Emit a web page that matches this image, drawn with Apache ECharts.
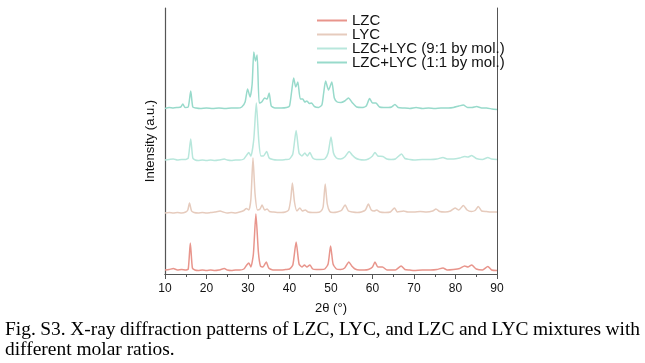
<!DOCTYPE html>
<html><head><meta charset="utf-8">
<script src="https://cdn.jsdelivr.net/npm/echarts@6/dist/echarts.min.js"></script>
<style>html,body{margin:0;padding:0;background:#fff}#c{width:645px;height:363px}</style>
</head><body><div id="c"></div>
<script>
// Data: [2θ, intensity (a.u., stacked offsets as plotted)]
const seriesNames = ['LZC', 'LYC', 'LZC+LYC (9:1 by mol.)', 'LZC+LYC (1:1 by mol.)'];
const xTicks = [10, 20, 30, 40, 50, 60, 70, 80, 90];
const lzc = [[10,4],[11,4.5],[12,5.5],[13,4],[14,4.5],[15,4],[15.6,5],[16.1,31],[16.6,6],[17.2,4],[18,3.5],[19,4],[20,3.5],[21,4],[22,3.5],[23,4],[24.3,5.5],[25,4],[26,3.5],[27,4],[28,4],[29,5],[29.7,9],[30.2,11],[30.7,7],[31.3,20],[31.9,60],[32.5,22],[33,8],[33.6,7],[34.4,12],[35,6],[36,4],[37,4],[38,4],[39,4.5],[40,5],[40.8,9],[41.6,32],[42.3,10],[43,7],[43.6,9],[44.2,7],[44.9,9],[45.6,5],[46.5,4.5],[47.5,4.5],[48.5,5],[49.3,10],[49.9,28],[50.5,10],[51.3,5],[52.3,4.5],[53.3,6],[54.3,12],[55,8],[55.8,5],[56.8,4],[58,4],[59,4.5],[60,7],[60.6,12],[61.3,7],[62.4,7],[63.5,4],[64.5,4],[65.5,4],[66.9,8],[67.8,4.5],[69,4],[70,3.5],[72,4],[74,4],[75.5,4.5],[77,6],[78,4],[79.5,4.5],[81,5.5],[82.2,8],[83,7],[83.9,9],[85,5],[86.5,4],[87.8,7.5],[88.7,4],[90,3.5]];
const lyc = [[10,61],[11,61.5],[12,61],[13,61.5],[14,61],[15,62],[15.5,64],[15.9,71],[16.4,63],[17,61.5],[18,61],[19,61.5],[20,61],[21,61.5],[22,62],[23.3,63],[24,62],[25,61],[26,61.5],[27,61],[28,62],[29,63.5],[29.6,65.5],[30.2,64],[30.7,75],[31.2,116],[31.7,80],[32.3,64],[32.9,65],[33.4,69],[34,64],[34.6,65],[35.2,62.5],[36,62],[37,61.5],[38,61.5],[39,62],[39.8,64],[40.3,75],[40.7,91],[41.2,72],[41.8,63],[42.5,66],[43.1,63],[43.8,64],[44.5,62],[45.5,61.5],[46.5,61.5],[47.5,62.5],[48.1,67],[48.6,90],[49.1,70],[49.7,62.5],[50.5,61.5],[51.5,62],[52.5,63.5],[53.4,69],[54.2,63],[55.2,62],[56.3,61.5],[57.3,62],[58.3,64],[59,70],[59.7,64],[60.4,63],[61,64],[61.8,62],[63,61.5],[64.3,62],[65.3,66],[66,62],[67.5,63],[68.5,62],[70,62],[71.5,62.5],[73,62],[74.5,63],[75.3,65],[76.2,62.5],[77.5,62],[78.8,63],[79.9,66],[80.8,64],[81.9,68.5],[82.8,64],[83.8,62.5],[84.7,63.5],[85.5,67.5],[86.3,63],[87.5,62.5],[88.5,62],[90,62]];
const mix91 = [[10,114],[11,114.5],[12,115],[13,114],[14,114.5],[15,114.5],[15.6,116],[16.2,135],[16.7,116],[17.3,114],[18,113.5],[19,114],[20,113.5],[21,114],[22,113.5],[23,114],[24.3,115],[25,114],[26,113.5],[27,114],[28,114],[29,115],[29.7,119],[30.2,121.5],[30.7,118],[31.4,135],[32,171],[32.6,133],[33.1,118],[33.7,118],[34.5,122.5],[35.1,116],[36,114.5],[37,114],[38,114],[39,114.5],[40,115],[40.8,120],[41.6,143.5],[42.3,121],[43,118],[43.7,121],[44.3,118],[44.9,121.5],[45.6,116],[46.5,114.5],[47.5,114.5],[48.5,115],[49.3,121],[50,137],[50.6,121],[51.3,116],[52.3,115],[53.3,117],[54.4,122.5],[55.1,119],[55.9,116],[56.8,114.5],[58,114],[59,115],[60,118],[60.6,121.5],[61.3,118],[62.5,117.5],[63.5,115],[64.5,114.5],[65.5,115],[67,120],[67.8,115.5],[69,114.5],[70,114],[72,114.5],[74,114.5],[75.5,115],[77,116.5],[78,115],[79.5,115],[81,116],[82.2,117.5],[83,117],[83.9,118.5],[85,115.5],[86.5,114.5],[87.8,116.5],[88.7,115],[90,114.5]];
const mix11 = [[10,165.5],[11,166.5],[12,166],[13,166.5],[13.8,167],[14.3,170],[14.8,166.5],[15.6,167],[16.2,183],[16.7,167],[17.5,166],[18.5,165.5],[20,166],[21.5,165.5],[23,166],[24.5,165.5],[26,166],[27.5,166],[28.5,167],[29.3,172],[29.9,185],[30.5,177],[31,190],[31.4,222],[31.8,213],[32.2,219],[32.7,171],[33.3,172],[34,176],[34.6,175],[35.1,181],[35.6,168],[36.5,166],[38,166],[39.3,166.5],[40,168],[40.5,182],[41,196],[41.5,187],[42,192],[42.6,175],[43.2,175],[43.7,172],[44.2,173],[44.8,170.5],[45.3,171],[46,167.5],[47,166.5],[47.8,169],[48.2,180],[48.7,193],[49.4,184],[50.2,192],[50.8,176],[51.5,172],[52.4,171.5],[53.3,173],[54.2,176],[55.2,171],[56.2,167],[57.5,166.5],[58.5,168],[59.3,175.5],[60,171],[60.8,171],[61.7,167],[62.7,166.5],[63.8,166.5],[64.6,167],[65.4,169.5],[66.2,166.5],[67.5,166],[69,165.5],[70.5,166.5],[72,165.5],[73.5,166],[75,165.5],[76.5,166],[78.3,166],[79.5,166.5],[80.8,168],[81.9,169],[82.9,166.5],[84,166.5],[85.1,167.5],[86.3,166],[87.5,166],[88.8,165],[90,164.5]];
const captionLine1 = 'Fig. S3. X-ray diffraction patterns of LZC, LYC, and LZC and LYC mixtures with';
const captionLine2 = 'different molar ratios.';

const colors = ['#e8958c', '#e6cbbd', '#b8e7dc', '#98dacb'];
const allData = [lzc, lyc, mix91, mix11];

const chart = echarts.init(document.getElementById('c'), null, {renderer: 'canvas'});

// justified caption line 1 (slightly wide serif)
const capFont = '18px "Liberation Serif"';
const sx = 1.08;
const cv = document.createElement('canvas').getContext('2d');
cv.font = capFont;
const words = captionLine1.split(' ');
const wW = words.map(w => cv.measureText(w).width * sx);
const L = 5, R = 640;
const gap = (R - L - wW.reduce((a, b) => a + b, 0)) / (words.length - 1);
const graphics = [];
let cx = L;
words.forEach((w, i) => {
  graphics.push({type: 'text', x: cx, y: 321, scaleX: sx,
    style: {text: w, font: capFont, fill: '#000', verticalAlign: 'top'}});
  cx += wW[i] + gap;
});
graphics.push({type: 'text', x: L, y: 341, scaleX: sx,
  style: {text: captionLine2, font: capFont, fill: '#000', verticalAlign: 'top'}});

const frameColor = '#555';
chart.setOption({
  animation: false,
  backgroundColor: '#fff',
  grid: {left: 165, right: 148, top: 8, bottom: 89, containLabel: false},
  legend: {
    orient: 'vertical', left: 317, top: 13, padding: 0, itemWidth: 30, itemHeight: 2, itemGap: -1,
    icon: 'rect',
    textStyle: {fontFamily: 'Liberation Sans', fontSize: 15, lineHeight: 14, color: '#111'},
    data: seriesNames
  },
  xAxis: [{
    type: 'value', min: xTicks[0], max: xTicks[xTicks.length - 1], interval: 10,
    name: '2θ (°)', nameLocation: 'middle', nameGap: 28,
    nameTextStyle: {fontFamily: 'Liberation Sans', fontSize: 13, color: '#111'},
    axisLine: {lineStyle: {color: frameColor, width: 1}},
    axisTick: {inside: false, length: 5, lineStyle: {color: frameColor}},
    minorTick: {show: true, splitNumber: 2, length: 3, lineStyle: {color: frameColor}},
    axisLabel: {margin: 9, fontFamily: 'Liberation Sans', fontSize: 12, color: '#111'},
    splitLine: {show: false}
  }, {
    type: 'value', position: 'top', min: 10, max: 90,
    axisLine: {show: true, lineStyle: {color: frameColor, width: 1}},
    axisTick: {show: false}, axisLabel: {show: false}, splitLine: {show: false}
  }],
  yAxis: [{
    type: 'value', min: 0, max: 266,
    name: 'Intensity (a.u.)', nameLocation: 'middle', nameGap: 8, nameRotate: 90,
    nameTextStyle: {fontFamily: 'Liberation Sans', fontSize: 13, color: '#111'},
    axisLine: {show: true, lineStyle: {color: frameColor, width: 1.2}},
    axisTick: {show: false}, axisLabel: {show: false}, splitLine: {show: false}
  }, {
    type: 'value', position: 'right', min: 0, max: 266,
    axisLine: {show: true, lineStyle: {color: frameColor, width: 1}},
    axisTick: {show: false}, axisLabel: {show: false}, splitLine: {show: false}
  }],
  series: seriesNames.map((n, i) => ({
    name: n, type: 'line', data: allData[i], symbol: 'none', smooth: 0.2,
    lineStyle: {color: colors[i], width: 1.5}, itemStyle: {color: colors[i]}
  })),
  graphic: graphics
});
</script></body></html>
